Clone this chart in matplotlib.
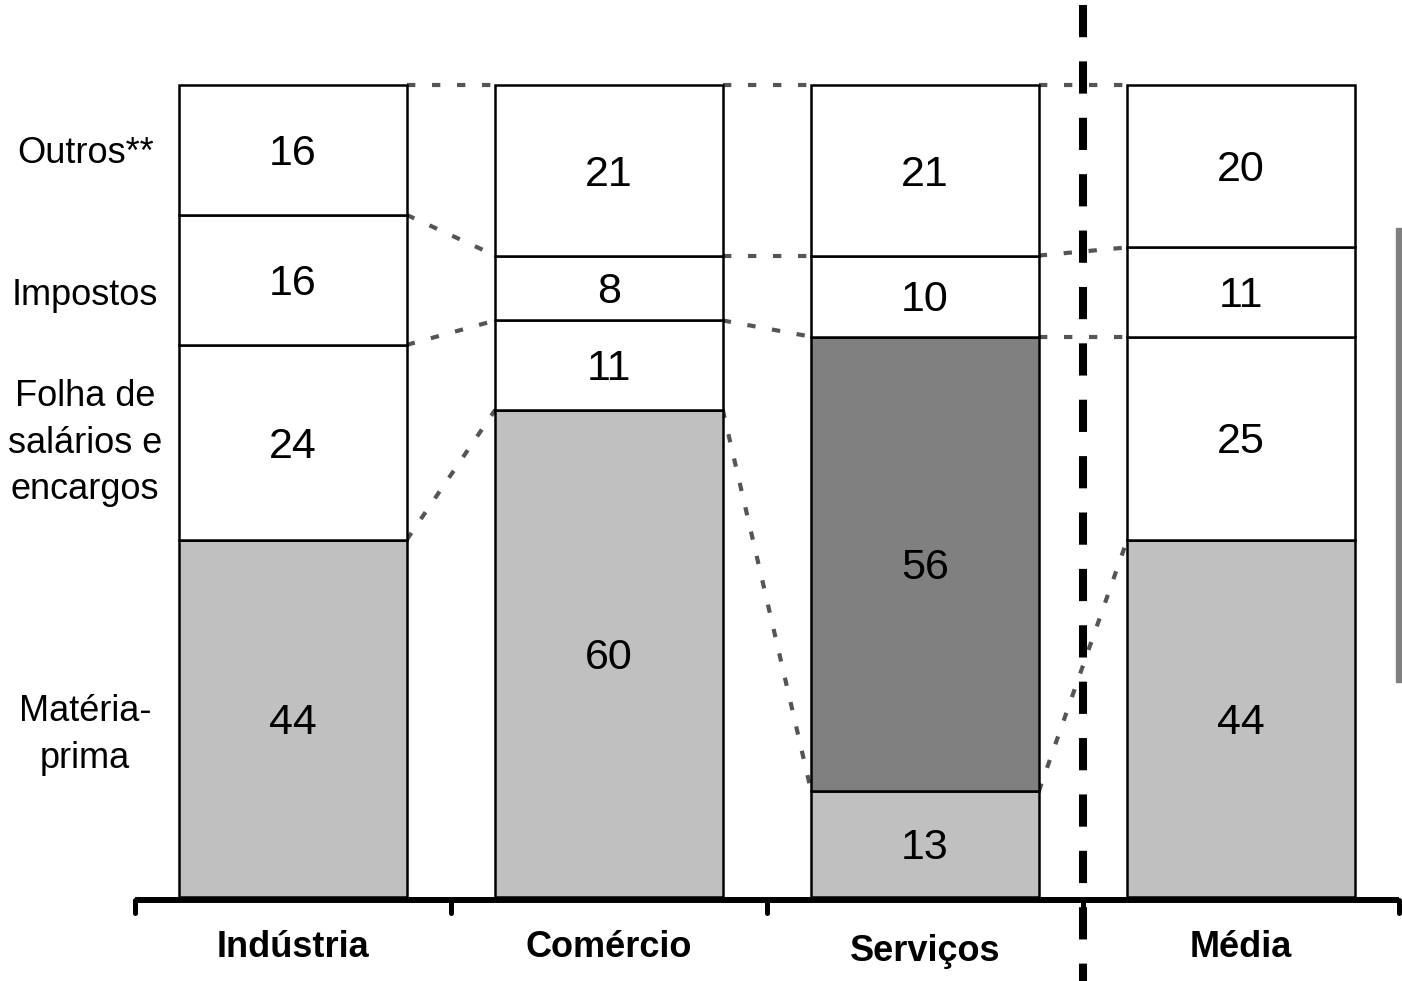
import matplotlib
matplotlib.use("Agg")
import matplotlib.pyplot as plt
import numpy as np
from matplotlib.patches import Rectangle
from matplotlib.transforms import offset_copy

plt.rcParams['font.family'] = ['Liberation Sans', 'DejaVu Sans']

# dados
setores = ['Indústria', 'Comércio', 'Serviços', 'Média']
materia_prima = [44, 60, 13, 44]
servicos_extra = [0, 0, 56, 0]      # segmento cinza escuro (só Serviços)
folha = [24, 11, 0, 25]
impostos = [16, 8, 10, 11]
outros = [16, 21, 21, 20]
rotulos_esq = ['Outros**', 'Impostos', 'Folha de\nsalários e\nencargos', 'Matéria-\nprima']

# (valores, cor, liga com pontilhado?)
camadas = [
    (materia_prima, '#c0c0c0', True),
    (servicos_extra, '#808080', False),
    (folha, 'white', True),
    (impostos, 'white', True),
    (outros, 'white', True),
]

fig = plt.figure(figsize=(14.02, 9.81), dpi=100)
ax = fig.add_axes([0, 0, 1, 1])
ax.set_xlim(-0.9272, 3.5095)
ax.set_ylim(-10.345, 110.468)
ax.axis('off')

num_tr = offset_copy(ax.transData, fig=fig, y=-11, units='points')

x = np.arange(len(setores))
larg = 0.72
base = np.zeros(len(setores))
limites = []
for vals, cor, liga in camadas:
    vals = np.array(vals, dtype=float)
    ax.bar(x, vals, bottom=base, width=larg, color=cor, edgecolor='black',
           linewidth=1.8, zorder=2)
    for i, v in enumerate(vals):
        if v > 0:
            ax.text(x[i], base[i] + v / 2, f'{int(v)}', ha='center', va='baseline',
                    fontsize=31, transform=num_tr, zorder=4)
    base = base + vals
    if liga:
        limites.append(base.copy())

# linhas pontilhadas entre as barras
for i in range(len(setores) - 1):
    for lim in limites:
        ax.plot([x[i] + larg / 2, x[i + 1] - larg / 2], [lim[i], lim[i + 1]],
                color='#555555', lw=3, linestyle=(0, (2, 4)), zorder=1)

# eixo inferior com marcas
ax.plot([-0.5, 3.5], [-0.31, -0.31], color='black', lw=4.3, solid_capstyle='butt', zorder=3)
for t in np.arange(-0.5, 4, 1.0):
    ax.plot([t, t], [-0.31, -1.95], color='black', lw=3.6, solid_capstyle='round', zorder=3)

# linha vertical tracejada separando a média
ax.plot([2.5, 2.5], [109.85, -10.345], color='black', lw=5.8, linestyle=(0, (4, 3)),
        dash_capstyle='butt', zorder=5)

# nomes das categorias
for i, nome in enumerate(setores):
    yb = -7.45 if nome != 'Serviços' else -7.9
    ax.text(x[i], yb, nome, ha='center', va='baseline', fontsize=26, fontweight='bold')

# rótulos à esquerda (linha de base da última linha)
y_rot = [90.4, 72.9, 49.0, 15.9]
for txt, yy in zip(rotulos_esq, y_rot):
    ax.text(-0.658, yy, txt, ha='center', va='baseline', fontsize=26,
            linespacing=1.43, multialignment='center')

# faixa cinza na borda direita
fig.patches.append(Rectangle((1396 / 1402, 1 - 682 / 981), 8 / 1402, 454 / 981,
                             transform=fig.transFigure, color='#808080'))

fig.savefig('out.png', dpi=100)
